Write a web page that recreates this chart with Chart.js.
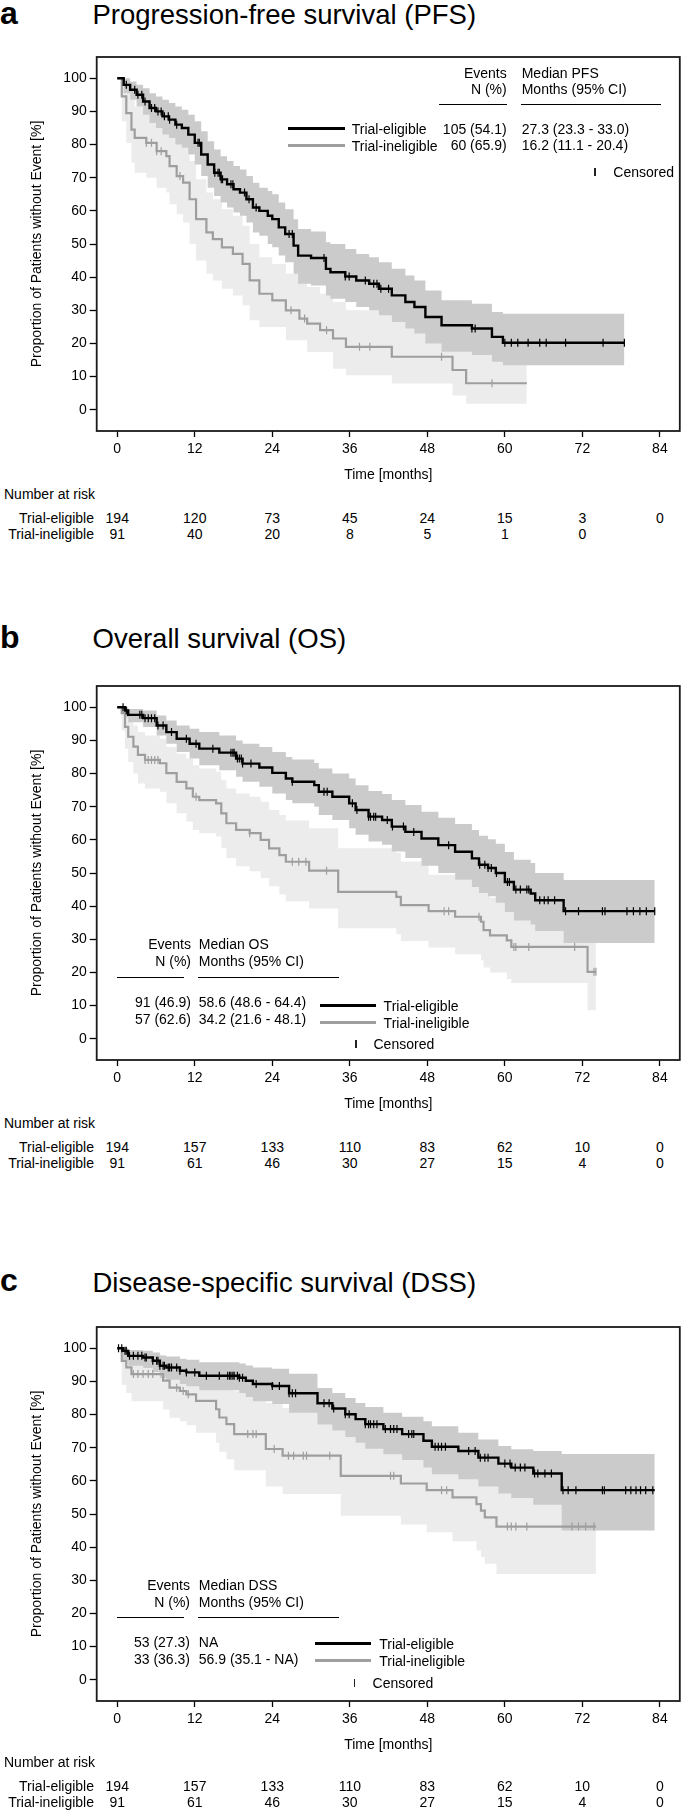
<!DOCTYPE html>
<html>
<head>
<meta charset="utf-8">
<script src="https://cdn.jsdelivr.net/npm/chart.js@4.4.1/dist/chart.umd.min.js"></script>
<style>
html,body{margin:0;padding:0;background:#fff;}
body{width:685px;height:1811px;position:relative;overflow:hidden;font-family:"Liberation Sans",Arial,Helvetica,sans-serif;color:#000;}
.t{position:absolute;white-space:nowrap;}
canvas{position:absolute;left:0;}
.ln{position:absolute;}
</style>
</head>
<body>
<script>
// ---------- shared axis data ----------
const xTickValues = [0, 12, 24, 36, 48, 60, 72, 84];
const yTickValues = [0, 10, 20, 30, 40, 50, 60, 70, 80, 90, 100];
const groupLabels = ['Trial-eligible', 'Trial-ineligible'];
const riskTimes = [0, 12, 24, 36, 48, 60, 72, 84];

// ---------- Panel a: PFS ----------
const pfsEligTime  = [0, 1, 2, 3, 4, 5, 6, 7, 8, 9, 10, 11, 12, 13, 14, 15, 16, 17, 18, 19, 20, 21, 22, 23.3, 24, 25, 26, 27.3, 28, 30, 32.3, 33, 35.3, 37, 39, 40.5, 42.5, 44.6, 46, 47.7, 50.2, 54.9, 58, 59.7, 78.5];
const pfsEligSurv  = [100, 98, 96.5, 95, 93, 91, 90, 88.5, 87.5, 86, 85, 83, 80.5, 77, 74, 71.5, 69.5, 68, 66.5, 65.5, 63.5, 61, 60, 58.5, 57.5, 55, 53, 49.5, 46.5, 45.8, 42.5, 41.5, 40.2, 39, 38, 36.5, 34.5, 32.5, 31, 28, 25.5, 24.5, 22, 20.2, 20.2];
const pfsEligUpper = [100, 100, 99, 98, 97, 95.5, 94.5, 93.5, 92.5, 91.5, 90.5, 89, 87, 84, 81, 78.5, 76.5, 75, 73.5, 72.5, 70.5, 68.5, 67, 66, 65, 62.5, 60.5, 57.5, 54.5, 53.8, 50.5, 50, 48.5, 47, 46, 44.5, 42.5, 40.5, 39, 36, 33, 32, 29.5, 29, 29];
const pfsEligLower = [100, 95.5, 93.5, 91.5, 89, 86.5, 85, 83, 82, 80, 79, 77, 74, 70.5, 67, 64.5, 62.5, 61, 59.5, 58.5, 56.5, 53.5, 52.5, 50, 49, 46.5, 44.5, 41, 38, 37.5, 34.5, 33.5, 32.5, 31, 30, 28.5, 26.5, 24.5, 23, 20, 17.5, 16.5, 14.5, 13.4, 13.4];
const pfsEligCensor = [1.4, 2.7, 3.2, 3.8, 4.3, 5.3, 5.8, 6.3, 6.8, 7.3, 7.9, 8.1, 9.2, 12.5, 12.7, 15.1, 15.6, 15.8, 16.1, 16.3, 17.6, 17.9, 19.7, 20.4, 21.5, 26.6, 27.1, 32, 35.3, 35.9, 38.4, 39.7, 40.2, 40.8, 42, 54.9, 55.4, 60, 61, 62, 63.6, 65.4, 66.4, 69.4, 75.2, 78.5];

const pfsInelTime  = [0, 0.7, 1.4, 2.2, 2.7, 4.5, 6.1, 7.6, 8.1, 9.2, 10.2, 11.2, 12.2, 13.8, 14.8, 16.2, 17.9, 19.4, 20.5, 22, 24, 26.1, 28.2, 29.4, 31.4, 33.4, 35.4, 42.5, 51.9, 54, 63.4];
const pfsInelSurv  = [100, 94.5, 89.5, 84.5, 82, 80.5, 78, 76.5, 73.5, 70.5, 68.5, 63.5, 57.5, 53.5, 51.5, 49, 47, 44, 39, 35, 33, 30, 27.5, 26, 24, 21.5, 19, 16, 12, 8, 8];
const pfsInelUpper = [100, 99.5, 97, 93.5, 91.5, 90, 88, 86.5, 84, 81.5, 79.5, 75, 69.5, 65.5, 63.5, 60.5, 58.5, 55.5, 50, 46, 44, 41, 38.5, 37, 35, 32.5, 30, 27, 23, 18.5, 18.5];
const pfsInelLower = [100, 87, 80.5, 74.5, 71.5, 70, 67, 65.5, 62, 59, 56.5, 50, 45, 41, 39, 36.5, 34.5, 31.5, 27, 25, 25, 21, 21, 17.4, 17.4, 12.4, 10.4, 7.9, 4.3, 1.8, 1.8];
const pfsInelCensor = [4.5, 5.3, 6.1, 6.8, 9.7, 26.9, 29, 32.4, 37.5, 39.1, 50.2, 58];

const pfsRiskElig = [194, 120, 73, 45, 24, 15, 3, 0];
const pfsRiskInel = [91, 40, 20, 8, 5, 1, 0, null];

// ---------- Panel b: OS ----------
const osEligTime  = [0, 1.2, 1.7, 4, 6.1, 7.6, 9.2, 11.2, 12.7, 15.8, 18.4, 19.4, 22, 24, 26.1, 27.1, 30.5, 31.2, 33.3, 35.9, 36.9, 38.9, 41, 42.5, 44.6, 47.1, 49.7, 52.3, 54.9, 56, 57.4, 58.6, 60, 61.4, 64, 64.7, 69.1, 83.2];
const osEligSurv  = [100, 99, 97.7, 96.7, 94.5, 92.5, 90.5, 89, 87.5, 86.3, 84.5, 83, 81.8, 80.2, 78.5, 77.5, 76.5, 74.5, 73, 71, 69, 67, 66, 64, 62.4, 60.4, 58.4, 56.4, 54.4, 52.5, 51.5, 50, 47.3, 45, 43.8, 41.8, 38.5, 38.5];
const osEligUpper = [100, 100, 99.5, 99, 97.5, 96, 94.5, 93.5, 92.5, 91.5, 90, 89, 88, 86.5, 85, 84.2, 83.2, 81.5, 80, 78.5, 76.5, 74.7, 73.8, 72, 70.5, 68.5, 66.7, 64.8, 63, 61.2, 60.2, 58.8, 56.3, 54, 53, 50, 47.9, 47.9];
const osEligLower = [100, 97, 95.5, 94, 91.5, 89, 86.5, 84.5, 82.5, 81, 79, 77.5, 76, 74, 72, 71, 70, 67.5, 66, 63.5, 61.5, 59.5, 58.5, 56.5, 54.5, 52.2, 50, 48, 45.8, 44, 43, 41, 38.2, 35.7, 34.5, 32.5, 28.9, 28.9];
const osEligCensor = [0.9, 1.4, 3.5, 3.8, 4.3, 4.8, 5.3, 5.8, 6.3, 7.1, 8.4, 10.7, 12.2, 14.8, 17.6, 17.9, 18.1, 18.6, 18.9, 19.2, 19.4, 20.7, 27.1, 32, 32.5, 36.4, 37.1, 38.9, 39.2, 39.7, 40, 41.8, 42.6, 44.3, 45.9, 51.3, 56.1, 56.9, 57.4, 57.9, 58.7, 60.4, 60.7, 61.7, 62.4, 63.4, 63.7, 65.4, 66.1, 66.7, 67.7, 69.4, 71.4, 75.1, 75.5, 78.9, 79.9, 80.9, 81.9, 83.2];

const osInelTime  = [0, 0.7, 1.2, 1.7, 2.5, 3.2, 4.3, 6.6, 7.6, 9.2, 10.7, 11.7, 12.7, 15.3, 16.1, 16.9, 18.4, 20.5, 22.2, 23.5, 25.1, 26.1, 29.7, 34.2, 43.2, 43.9, 48.2, 52.3, 56.3, 56.7, 57.7, 60.3, 61, 72.8, 74.1];
const osInelSurv  = [100, 98.2, 94.1, 91.1, 88.1, 85.6, 84.1, 83.1, 80.1, 77.5, 75.5, 73, 72, 71, 68, 65, 63, 62, 60, 57.4, 55.4, 53.4, 50.7, 44.3, 42.8, 40.3, 38.5, 36.8, 35.3, 32.8, 31.2, 29.7, 27.7, 20.2, 20.2];
const osInelUpper = [100, 100, 98.5, 96.5, 94.5, 92.5, 91.5, 90.5, 88, 86, 84.5, 82.5, 81.5, 80.5, 78, 75.5, 74, 73, 71.5, 69, 67.5, 65.8, 63.5, 57.5, 56, 53.5, 49.5, 48, 46.5, 44, 42.5, 41, 39, 33, 33];
const osInelLower = [100, 93, 87.5, 83.5, 80, 77, 75.5, 74.5, 71, 68, 65.5, 63, 62, 61, 57.5, 54.5, 52, 50.5, 48.5, 46, 43.5, 41.5, 39.3, 33.3, 31.5, 29.5, 27.5, 25.5, 23.7, 21.5, 20, 18, 16.8, 8.6, 8.6];
const osInelCensor = [4.3, 4.8, 5.3, 5.8, 6.3, 12.2, 20.5, 27.1, 28.1, 29.2, 32.4, 50.6, 51.3, 56, 61.4, 61.7, 63.7, 70.8, 73.8, 74.1];

const osRiskElig = [194, 157, 133, 110, 83, 62, 10, 0];
const osRiskInel = [91, 61, 46, 30, 27, 15, 4, 0];

// ---------- Panel c: DSS ----------
const dssEligTime  = [0, 0.9, 1.7, 4, 5.5, 6.6, 7.6, 9.7, 10.7, 12.7, 18.9, 19.9, 21, 24, 26.6, 31, 33.3, 35.3, 36.9, 38.4, 41.2, 44.1, 47.4, 48.7, 52.8, 55.9, 59, 61, 64.4, 68.8, 83.2];
const dssEligSurv  = [100, 99.2, 97.7, 97.2, 96.2, 94.7, 94.2, 93.2, 92.7, 91.7, 91.1, 90.2, 89.2, 88.6, 86.4, 83.4, 81.8, 80.1, 78.6, 77.1, 75.6, 74.1, 72.1, 70.3, 69, 67, 65.2, 64, 62.2, 57.2, 57.2];
const dssEligUpper = [100, 100, 99.5, 99.2, 98.7, 97.8, 97.5, 96.8, 96.5, 95.8, 95.4, 94.8, 94.2, 93.8, 92.3, 88, 86.5, 85, 83.5, 82.3, 80.5, 79.3, 78, 76.5, 74.5, 72.5, 70.5, 69.5, 69, 68.1, 68.1];
const dssEligLower = [100, 96.5, 94.7, 94, 92.8, 91, 90.5, 89.2, 88.5, 87.3, 86.5, 85.3, 84, 83.2, 80.5, 77, 75.2, 73.2, 71.5, 69.7, 68, 66.3, 64, 62, 60.5, 58.3, 56.2, 54.8, 52.8, 45, 45];
const dssEligCensor = [0.2, 0.7, 1.2, 1.4, 1.9, 2.5, 3.2, 3.8, 4.3, 4.5, 5.5, 6.1, 6.3, 6.6, 7.1, 7.3, 7.9, 8.1, 8.4, 9.2, 9.7, 10.7, 12, 13.8, 15.8, 17.1, 17.4, 17.6, 17.9, 18.1, 18.6, 18.9, 19.4, 21.5, 24, 25.1, 26.6, 27.1, 27.6, 32, 32.8, 33.5, 35.3, 35.9, 38.4, 38.9, 39.2, 39.7, 40.2, 41.5, 42.3, 42.8, 43.3, 45.1, 45.6, 45.9, 49.2, 49.7, 50.2, 50.8, 54.4, 55.4, 56.2, 56.9, 57.4, 60, 60.8, 61.6, 62.4, 63.1, 64.6, 65.1, 66.2, 67.2, 69, 69.8, 71, 75.1, 75.4, 78.7, 79.5, 80.3, 81, 81.8, 82.9];

const dssInelTime  = [0, 0.7, 1.4, 2.2, 7.1, 8.1, 9.7, 10.7, 12.2, 15.3, 15.8, 16.9, 18.1, 23, 25.6, 34.6, 43.9, 47.9, 51.9, 55.6, 56.3, 56.9, 58.7, 74.1];
const dssInelSurv  = [100, 96.2, 94.2, 92.2, 90.2, 88.1, 87.1, 86.1, 84.1, 81.6, 79.1, 77.1, 74.1, 69.6, 67.6, 61.5, 59.2, 57.2, 55, 53, 51, 49, 46.2, 46.2];
const dssInelUpper = [100, 100, 99, 98, 97, 96, 95.5, 95, 93.5, 92, 90.5, 89, 87, 83.5, 82, 77, 75.5, 74, 72.5, 71, 69.5, 68, 66, 66];
const dssInelLower = [100, 89, 86.5, 84, 81.5, 79, 78, 76.8, 74.5, 71.5, 68.8, 66.5, 63.2, 58.3, 56, 49.5, 46.8, 44.5, 41.8, 39, 37, 35, 31.9, 31.9];
const dssInelCensor = [2.5, 3.2, 4.0, 4.8, 5.5, 9.2, 10.2, 11, 20.2, 21, 21.5, 24.3, 26.5, 27.3, 28.8, 29.3, 32.9, 42.3, 42.8, 50.2, 51, 60.4, 61, 61.7, 63.4, 70.4, 71.4, 72.5, 73.8];

const dssRiskElig = [194, 157, 133, 110, 83, 62, 10, 0];
const dssRiskInel = [91, 61, 46, 30, 27, 15, 4, 0];

// ---------- styling / layout ----------
const FONT = '"Liberation Sans", Arial, Helvetica, sans-serif';
const BLACK = '#000000';
const GRAY = '#9e9e9e';
const BAND_DARK = '#cbcbcb';
const BAND_LIGHT = '#ececec';
const BOX_LEFT = 96.7, BOX_RIGHT = 682, BOX_H = 374, PAD_TOP = 20, XAXIS_H = 53;

function stepAt(times, surv, t) {
  let v = surv[0];
  for (let i = 0; i < times.length; i++) { if (times[i] <= t) v = surv[i]; else break; }
  return v;
}
function pts(times, vals) { return times.map((t, i) => ({x: t, y: vals[i]})); }

function addText(x, y, s, align, size, weight) {
  size = size || 14;
  const d = document.createElement('div');
  d.className = 't';
  d.textContent = s;
  d.style.left = x + 'px';
  d.style.top = y + 'px';
  d.style.fontSize = size + 'px';
  d.style.lineHeight = (size * 1.15) + 'px';
  if (weight) d.style.fontWeight = weight;
  const tx = align === 'right' ? '-100%' : (align === 'center' ? '-50%' : '0');
  d.style.transform = 'translate(' + tx + ',-50%)';
  document.body.appendChild(d);
  return d;
}
function addBaselineText(x, baseline, s, size, weight) {
  const d = document.createElement('div');
  d.className = 't';
  d.textContent = s;
  d.style.left = x + 'px';
  d.style.fontSize = size + 'px';
  d.style.lineHeight = (size * 1.117) + 'px';
  d.style.top = (baseline - 0.905 * size) + 'px';
  if (weight) d.style.fontWeight = weight;
  document.body.appendChild(d);
}
function addLine(x1, x2, y, color, h) {
  const d = document.createElement('div');
  d.className = 'ln';
  d.style.left = x1 + 'px';
  d.style.width = (x2 - x1) + 'px';
  d.style.top = (y - h / 2) + 'px';
  d.style.height = h + 'px';
  d.style.background = color;
  document.body.appendChild(d);
}
function addVTick(x, y, h, color) {
  const d = document.createElement('div');
  d.className = 'ln';
  d.style.left = (x - 0.6) + 'px';
  d.style.width = '1.2px';
  d.style.top = (y - h / 2) + 'px';
  d.style.height = h + 'px';
  d.style.background = color;
  document.body.appendChild(d);
}

const boxPlugin = {
  id: 'kmBox',
  afterDraw(chart) {
    const {ctx, chartArea: a} = chart;
    ctx.save();
    ctx.strokeStyle = '#1a1a1a';
    ctx.lineWidth = 1.8;
    ctx.strokeRect(a.left, a.top, a.right - a.left, a.bottom - a.top);
    ctx.restore();
  }
};

function makePanel(p) {
  const canvas = document.createElement('canvas');
  const h = PAD_TOP + BOX_H + XAXIS_H;
  canvas.width = 685; canvas.height = h;
  canvas.style.width = '685px'; canvas.style.height = h + 'px';
  canvas.style.top = (p.boxTop - PAD_TOP) + 'px';
  document.body.appendChild(canvas);

  const lineDs = (label, times, vals, color, w, order) => ({
    label, data: pts(times, vals), borderColor: color, borderWidth: w, stepped: true,
    pointRadius: 0, fill: false, order
  });
  const censDs = (label, cens, times, surv, color, order) => ({
    label, data: cens.map(t => ({x: t, y: stepAt(times, surv, t)})),
    showLine: false, pointStyle: 'line', rotation: 90, pointRadius: 4,
    pointBorderWidth: 1.2, pointBorderColor: color, borderColor: color, backgroundColor: color, order
  });
  const bandDs = (label, times, vals, color, fill, order) => ({
    label, data: pts(times, vals), borderColor: 'rgba(0,0,0,0)', borderWidth: 0, stepped: true,
    pointRadius: 0, fill, backgroundColor: color, order
  });

  const tickFont = {family: FONT, size: 14};
  const chart = new Chart(canvas, {
    type: 'line',
    data: {
      datasets: [
        lineDs(groupLabels[0], p.e.time, p.e.surv, BLACK, 2.4, 2),
        lineDs(groupLabels[1], p.i.time, p.i.surv, GRAY, 2.2, 4),
        censDs('Censored ' + groupLabels[0], p.e.cens, p.e.time, p.e.surv, BLACK, 1),
        censDs('Censored ' + groupLabels[1], p.i.cens, p.i.time, p.i.surv, GRAY, 3),
        bandDs('95% CI upper ' + groupLabels[0], p.e.time, p.e.upper, BAND_DARK, '+1', 5),
        bandDs('95% CI lower ' + groupLabels[0], p.e.time, p.e.lower, BAND_DARK, false, 6),
        bandDs('95% CI upper ' + groupLabels[1], p.i.time, p.i.upper, BAND_LIGHT, '+1', 7),
        bandDs('95% CI lower ' + groupLabels[1], p.i.time, p.i.lower, BAND_LIGHT, false, 8)
      ]
    },
    options: {
      responsive: false, animation: false, devicePixelRatio: 1,
      layout: {padding: {left: 0, right: 685 - BOX_RIGHT, top: PAD_TOP, bottom: 0}},
      plugins: {legend: {display: false}, tooltip: {enabled: false}},
      scales: {
        x: {
          type: 'linear', min: -3.18, max: 87.08,
          afterBuildTicks: s => { s.ticks = xTickValues.map(v => ({value: v})); },
          afterFit: s => { s.height = XAXIS_H; },
          ticks: {autoSkip: false, maxRotation: 0, color: '#000', font: tickFont, padding: 4},
          grid: {drawOnChartArea: false, drawTicks: true, tickLength: 6, tickColor: '#000', tickWidth: 1.3},
          border: {display: false},
          title: {display: true, text: 'Time [months]', color: '#000', font: tickFont, padding: {top: 0, bottom: 0}}
        },
        y: {
          type: 'linear', min: -6.4, max: 106.4,
          afterBuildTicks: s => { s.ticks = yTickValues.map(v => ({value: v})); },
          afterFit: s => { s.width = BOX_LEFT; },
          ticks: {color: '#000', font: tickFont, padding: 3},
          grid: {drawOnChartArea: false, drawTicks: true, tickLength: 7, tickColor: '#000', tickWidth: 1.3},
          border: {display: false},
          title: {display: true, text: 'Proportion of Patients without Event [%]', color: '#000', font: tickFont, padding: {top: 28.6, bottom: 0}}
        }
      }
    },
    plugins: [boxPlugin]
  });

  // title
  addBaselineText(0, p.titleBaseline, p.letter, 32, 'bold');
  addBaselineText(92.5, p.titleBaseline, p.title, 27.5);

  // number at risk table, positioned with the chart's own x scale
  const xs = chart.scales.x;
  const boxBottom = p.boxTop + BOX_H;
  const sh = p.riskShift || 0;
  addText(4, boxBottom + 62.5 + sh, 'Number at risk', 'left');
  addText(94, boxBottom + 86.5 + sh, groupLabels[0], 'right');
  addText(94, boxBottom + 102.5 + sh, groupLabels[1], 'right');
  riskTimes.forEach((t, k) => {
    const px = xs.getPixelForValue(t);
    if (p.riskE[k] !== null) addText(px, boxBottom + 86.5 + sh, String(p.riskE[k]), 'center');
    if (p.riskI[k] !== null) addText(px, boxBottom + 102.5 + sh, String(p.riskI[k]), 'center');
  });
  return chart;
}

function addLegend(L) {
  addText(L.colR, L.y0, 'Events', 'right');
  addText(L.col2, L.y0, L.medLabel, 'left');
  addText(L.colR, L.y0 + L.dy0, 'N (%)', 'right');
  addText(L.col2, L.y0 + L.dy0, 'Months (95% CI)', 'left');
  addLine(L.ul1[0], L.ul1[1], L.ulY, '#000', 1);
  addLine(L.ul2[0], L.ul2[1], L.ulY, '#000', 1);
  addText(L.colR, L.r1, L.ev[0], 'right');
  addText(L.col2, L.r1, L.med[0], 'left');
  addText(L.colR, L.r2, L.ev[1], 'right');
  addText(L.col2, L.r2, L.med[1], 'left');
  addLine(L.lx[0], L.lx[1], L.l1, BLACK, 3);
  addLine(L.lx[0], L.lx[1], L.l2, GRAY, 3);
  addText(L.labX, L.l1 + 0.5, groupLabels[0], 'left');
  addText(L.labX, L.l2 + 0.5, groupLabels[1], 'left');
  addVTick(L.cx, L.cy, 8, '#222');
  addText(L.ctx, L.cy, 'Censored', 'left');
}

makePanel({
  boxTop: 57, titleBaseline: 24.9, letter: 'a', title: 'Progression-free survival (PFS)',
  e: {time: pfsEligTime, surv: pfsEligSurv, upper: pfsEligUpper, lower: pfsEligLower, cens: pfsEligCensor},
  i: {time: pfsInelTime, surv: pfsInelSurv, upper: pfsInelUpper, lower: pfsInelLower, cens: pfsInelCensor},
  riskE: pfsRiskElig, riskI: pfsRiskInel
});
addLegend({
  colR: 506.7, col2: 521.7, y0: 72.5, dy0: 16, medLabel: 'Median PFS',
  ul1: [439.3, 507.3], ul2: [521, 661], ulY: 104,
  r1: 129, r2: 145, ev: ['105 (54.1)', '60 (65.9)'], med: ['27.3 (23.3 - 33.0)', '16.2 (11.1 - 20.4)'],
  lx: [288, 345], l1: 128.5, l2: 145, labX: 351.7,
  cx: 595, cy: 171.7, ctx: 613.3
});

makePanel({
  boxTop: 686, titleBaseline: 648.9, letter: 'b', title: 'Overall survival (OS)',
  e: {time: osEligTime, surv: osEligSurv, upper: osEligUpper, lower: osEligLower, cens: osEligCensor},
  i: {time: osInelTime, surv: osInelSurv, upper: osInelUpper, lower: osInelLower, cens: osInelCensor},
  riskE: osRiskElig, riskI: osRiskInel
});
addLegend({
  colR: 191, col2: 198.8, y0: 944.3, dy0: 16.7, medLabel: 'Median OS',
  ul1: [116.6, 184.4], ul2: [198, 338.6], ulY: 977,
  r1: 1001.7, r2: 1019.3, ev: ['91 (46.9)', '57 (62.6)'], med: ['58.6 (48.6 - 64.4)', '34.2 (21.6 - 48.1)'],
  lx: [319.8, 375.7], l1: 1005.7, l2: 1022.7, labX: 383.6,
  cx: 356, cy: 1044.3, ctx: 373.5
});

makePanel({
  boxTop: 1327, titleBaseline: 1292.4, letter: 'c', title: 'Disease-specific survival (DSS)',
  e: {time: dssEligTime, surv: dssEligSurv, upper: dssEligUpper, lower: dssEligLower, cens: dssEligCensor},
  i: {time: dssInelTime, surv: dssInelSurv, upper: dssInelUpper, lower: dssInelLower, cens: dssInelCensor},
  riskE: dssRiskElig, riskI: dssRiskInel, riskShift: -1.5
});
addLegend({
  colR: 190, col2: 198.8, y0: 1585, dy0: 16.7, medLabel: 'Median DSS',
  ul1: [116.6, 184.4], ul2: [197.5, 338.6], ulY: 1617.3,
  r1: 1642.3, r2: 1659, ev: ['53 (27.3)', '33 (36.3)'], med: ['NA', '56.9 (35.1 - NA)'],
  lx: [315.4, 371.3], l1: 1643.3, l2: 1660, labX: 379.2,
  cx: 354.7, cy: 1683.3, ctx: 372.6
});
</script>
</body>
</html>
